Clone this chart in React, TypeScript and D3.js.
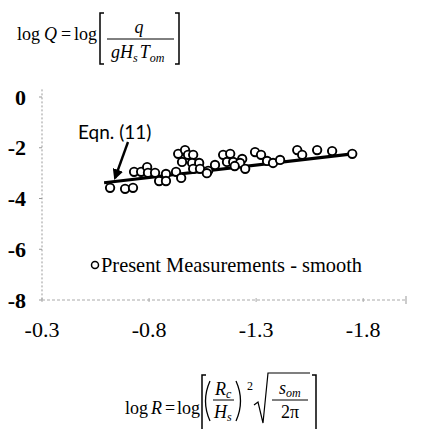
import * as d3 from 'd3'

const WIDTH = 424
const HEIGHT = 429

const measuredR = [
  -0.618, -0.688, -0.725, -0.73, -0.763, -0.791, -0.795, -0.828, -0.847, -0.879,
  -0.879, -0.926, -0.95, -0.936, -0.968, -0.982, -1.006, -0.954, -1.001, -1.034,
  -1.006, -1.038, -1.076, -1.108, -1.146, -1.179, -1.164, -1.193, -1.235, -1.225,
  -1.249, -1.295, -1.323, -1.351, -1.379, -1.412, -1.492, -1.515, -1.585, -1.655,
  -1.749, -1.07, -1.2,
]
const measuredQ = [
  -3.58, -3.62, -3.58, -2.95, -2.95, -2.76, -2.99, -2.99, -3.31, -3.03,
  -3.31, -2.95, -3.19, -2.24, -2.09, -2.28, -2.28, -2.56, -2.6, -2.6,
  -2.83, -2.83, -2.91, -2.68, -2.28, -2.24, -2.56, -2.56, -2.44, -2.6,
  -2.83, -2.17, -2.28, -2.52, -2.6, -2.48, -2.09, -2.28, -2.09, -2.13,
  -2.24, -3.0, -2.72,
]

// Eqn. (11) line end points
const eqnR = [-0.59, -1.75]
const eqnQ = [-3.38, -2.24]

const xTicks = [-0.3, -0.8, -1.3, -1.8]
const yTicks = [0, -2, -4, -6, -8]

const x = d3.scaleLinear([-0.3, -2.0], [42, 406])
const y = d3.scaleLinear([0, -8], [97, 300])

const SERIF = "'Liberation Serif', 'Times New Roman', serif"

export default function App() {
  const line = d3.line<number>(
    (_, i) => x(eqnR[i]),
    (_, i) => y(eqnQ[i]),
  )(eqnR)

  return (
    <svg
      width={WIDTH}
      height={HEIGHT}
      viewBox={`0 0 ${WIDTH} ${HEIGHT}`}
      style={{ position: 'absolute', left: 0, top: 0, background: '#fff' }}
    >
      <defs>
        <marker id="arrow" viewBox="0 0 10 10" refX="8" refY="5" markerWidth="4.5" markerHeight="4.5" orient="auto">
          <path d="M0,0 L10,5 L0,10 z" fill="#000" />
        </marker>
      </defs>

      {/* y axis */}
      <line x1={x(-0.3)} x2={x(-0.3)} y1={y(0.3)} y2={y(-8)} stroke="#999" strokeDasharray="2,2" />
      {yTicks.map((t) => (
        <g key={t}>
          <line x1={x(-0.3) - 3} x2={x(-0.3)} y1={y(t)} y2={y(t)} stroke="#999" />
          <text x={26} y={y(t)} dy="0.35em" textAnchor="end" fontFamily={SERIF} fontSize={22} fontWeight="bold">
            {t}
          </text>
        </g>
      ))}

      {/* x axis */}
      <line x1={x(-0.3)} x2={x(-2.0)} y1={y(-8)} y2={y(-8)} stroke="#aaa" strokeDasharray="3,2" />
      <line x1={x(-2.0)} x2={x(-2.0)} y1={y(-8) - 4} y2={y(-8) + 4} stroke="#999" />
      {xTicks.map((t) => (
        <g key={t}>
          <line x1={x(t)} x2={x(t)} y1={y(-8) - 2} y2={y(-8) + 2} stroke="#aaa" />
          <text x={x(t)} y={y(-8) + 37} textAnchor="middle" fontFamily={SERIF} fontSize={22}>
            {t.toFixed(1)}
          </text>
        </g>
      ))}

      {/* Eqn. (11) */}
      <path d={line ?? ''} stroke="#000" strokeWidth={3.2} fill="none" />
      <text x={78} y={139} fontFamily="Lato, 'Open Sans', sans-serif" fontSize={19}>
        Eqn. (11)
      </text>
      <line x1={128} y1={142} x2={115} y2={178} stroke="#000" strokeWidth={2.4} markerEnd="url(#arrow)" />

      {/* measurements */}
      {measuredR.map((r, i) => (
        <circle key={i} cx={x(r)} cy={y(measuredQ[i])} r={4.2} fill="#fff" stroke="#000" strokeWidth={1.9} />
      ))}

      {/* legend */}
      <circle cx={95} cy={265} r={3.5} fill="#fff" stroke="#000" strokeWidth={1.5} />
      <text x={101} y={272} fontFamily={SERIF} fontSize={20.4}>
        Present Measurements - smooth
      </text>

      {/* y title: log Q = log[q / (g Hs Tom)] */}
      <g fontFamily={SERIF} fontSize={18}>
        <text x={17} y={40}>log</text>
        <text x={44} y={40} fontStyle="italic">Q</text>
        <text x={61} y={40}>=</text>
        <text x={74} y={40}>log</text>
        <path d="M104,13 H100 V64 H104 M175,13 H179 V64 H175" stroke="#000" strokeWidth={1.5} fill="none" />
        <line x1={107} x2={174} y1={39} y2={39} stroke="#000" strokeWidth={1} />
        <text x={139} y={33} textAnchor="middle" fontStyle="italic">q</text>
        <text x={111} y={58} fontStyle="italic">
          gH<tspan fontSize={12} dy={4}>s</tspan>
          <tspan dy={-4} dx={2}>T</tspan>
          <tspan fontSize={12} dy={4}>om</tspan>
        </text>
      </g>

      {/* x title: log R = log[(Rc/Hs)^2 sqrt(som/2pi)] */}
      <g fontFamily={SERIF} fontSize={18}>
        <text x={125} y={414}>log</text>
        <text x={151} y={414} fontStyle="italic">R</text>
        <text x={165} y={414}>=</text>
        <text x={177} y={414}>log</text>
        <path d="M206,375 H202 V432 H206 M312,375 H316 V432 H312" stroke="#000" strokeWidth={1.5} fill="none" />
        <path d="M210,381 Q201,401 210,421 M236,381 Q245,401 236,421" stroke="#000" strokeWidth={1.3} fill="none" />
        <line x1={213} x2={234} y1={400} y2={400} stroke="#000" strokeWidth={1} />
        <text x={215} y={395} fontStyle="italic">
          R<tspan fontSize={12} dy={3}>c</tspan>
        </text>
        <text x={214} y={418} fontStyle="italic">
          H<tspan fontSize={12} dy={3}>s</tspan>
        </text>
        <text x={247} y={390} fontSize={12}>2</text>
        <path d="M254,405 L258,402 L263,423 L268,373 H310" stroke="#000" strokeWidth={1.2} fill="none" />
        <line x1={272} x2={308} y1={400} y2={400} stroke="#000" strokeWidth={1} />
        <text x={279} y={394} fontStyle="italic">
          s<tspan fontSize={12} dy={3}>om</tspan>
        </text>
        <text x={290} y={418} textAnchor="middle">2π</text>
      </g>
    </svg>
  )
}
